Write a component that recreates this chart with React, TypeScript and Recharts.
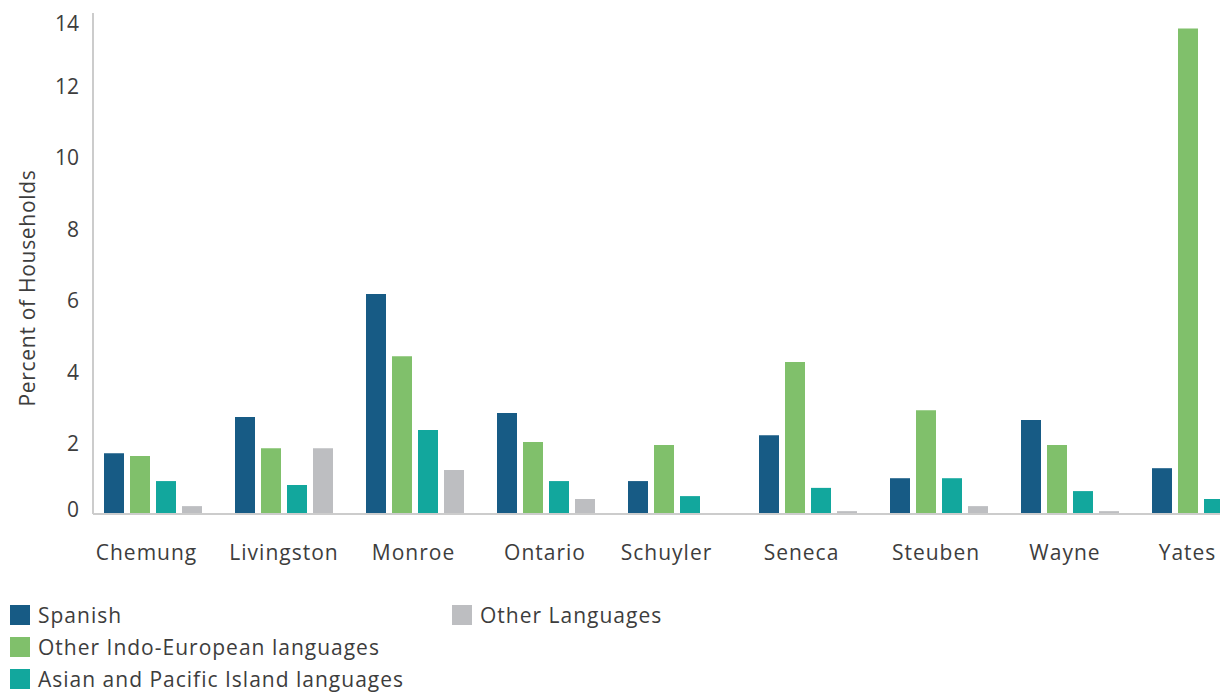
import React from 'react';
import { BarChart, Bar, XAxis, YAxis } from 'recharts';

const categories = ['Chemung', 'Livingston', 'Monroe', 'Ontario', 'Schuyler', 'Seneca', 'Steuben', 'Wayne', 'Yates'];
const spanish = [1.70, 2.71, 6.15, 2.82, 0.92, 2.20, 1.00, 2.63, 1.28];
const indoEuropean = [1.62, 1.84, 4.41, 2.01, 1.93, 4.25, 2.90, 1.93, 13.57];
const asianPacific = [0.92, 0.81, 2.35, 0.92, 0.50, 0.73, 1.00, 0.64, 0.42];
const otherLanguages = [0.22, 1.84, 1.23, 0.42, 0, 0.08, 0.22, 0.08, 0.1];
const yTicks = [0, 2, 4, 6, 8, 10, 12, 14];

const seriesNames = ['Spanish', 'Other Indo-European languages', 'Asian and Pacific Island languages', 'Other Languages'];
const seriesKeys = ['spanish', 'indo', 'asian', 'other'];
const seriesColors = ['#175B85', '#80C06B', '#12A79D', '#BDBEC1'];

const data = categories.map((c, i) => ({
  name: c,
  spanish: spanish[i],
  indo: indoEuropean[i],
  asian: asianPacific[i],
  other: otherLanguages[i],
}));

const FONT = '"Open Sans", Lato, sans-serif';
const TEXT = '#3d3d3d';
const FS = 21;
const LS = 1;
// small horizontal label nudges (styling) to mimic the original label placement
const labelNudge = [-6, 0.5, -1, -0.5, -10, -6, -2.5, -4.5, -13];

const YTick = (props: any) => {
  const { y, payload } = props;
  const v = payload.value;
  const shift = v === 14 ? 11 : v === 0 ? -4 : 2;
  return (
    <text x={79} y={y + shift + 7} textAnchor="end" fontSize={FS} fontFamily={FONT} fill={TEXT}>
      {v}
    </text>
  );
};

const XTick = (props: any) => {
  const { x, payload, index } = props;
  const dx = labelNudge[index] ?? -5;
  return (
    <text x={x + dx} y={560} textAnchor="middle" fontSize={FS} fontFamily={FONT} fill={TEXT} letterSpacing={LS}>
      {payload.value}
    </text>
  );
};

const YLabel = () => (
  <text
    x={0}
    y={0}
    transform="translate(35, 288) rotate(-90)"
    textAnchor="middle"
    fontSize={FS}
    fontFamily={FONT}
    fill={TEXT}
    letterSpacing={0.7}
  >
    Percent of Households
  </text>
);

const legendPos = [
  { left: 10, top: 604 },
  { left: 10, top: 636 },
  { left: 10, top: 668 },
  { left: 452, top: 604 },
];

export default function App() {
  return (
    <div style={{ position: 'absolute', left: 0, top: 0, width: 1220, height: 694, overflow: 'hidden', background: '#fff' }}>
      <BarChart
        width={1270}
        height={694}
        data={data}
        margin={{ top: 13, right: 4, bottom: 0, left: 0 }}
        barGap={6}
        barSize={20}
      >
        <XAxis
          dataKey="name"
          height={180}
          tick={<XTick />}
          tickLine={false}
          axisLine={{ stroke: '#cccccc', strokeWidth: 2 }}
          padding={{ left: -6, right: 0 }}
          interval={0}
        />
        <YAxis
          width={93}
          domain={[0, 14]}
          ticks={yTicks}
          tick={<YTick />}
          tickLine={false}
          axisLine={{ stroke: '#cccccc', strokeWidth: 2 }}
          label={{ content: () => <YLabel /> }}
        />
        {seriesKeys.map((k, i) => (
          <Bar key={k} dataKey={k} name={seriesNames[i]} fill={seriesColors[i]} isAnimationActive={false} />
        ))}
      </BarChart>
      {seriesNames.map((n, i) => (
        <div
          key={n}
          style={{
            position: 'absolute',
            left: legendPos[i].left,
            top: legendPos[i].top,
            display: 'flex',
            alignItems: 'center',
            fontFamily: FONT,
            fontSize: FS,
            color: TEXT,
            whiteSpace: 'nowrap',
            lineHeight: '22px',
            letterSpacing: LS,
          }}
        >
          <span style={{ display: 'inline-block', width: 20, height: 20, background: seriesColors[i], marginRight: 8 }} />
          <span>{n}</span>
        </div>
      ))}
    </div>
  );
}
